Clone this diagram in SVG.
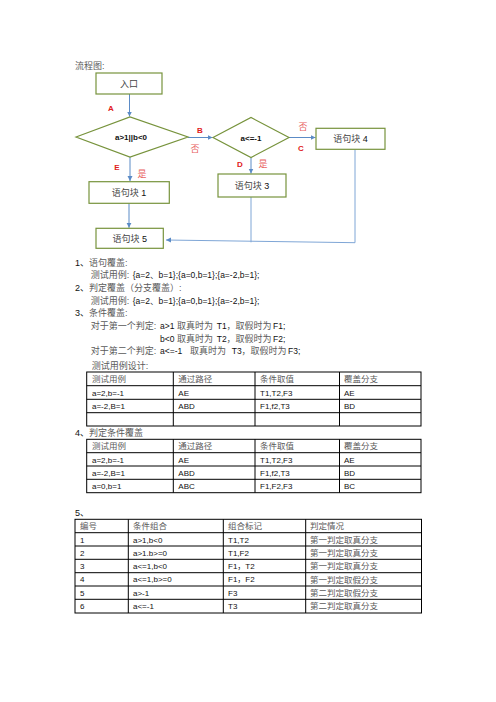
<svg xmlns="http://www.w3.org/2000/svg" width="496" height="702" viewBox="0 0 496 702">
<style>
text{font-family:"Liberation Sans","Noto Sans CJK SC",sans-serif;}
.cn{fill:#5a5a5a;font-size:9px;}
.lt{fill:#111;font-size:8.5px;}
.box{fill:#fff;stroke:#77933C;stroke-width:1.2;}
.lbl{fill:#E02020;font-size:8px;font-weight:bold;text-anchor:middle;}
.yn{fill:#E86060;font-size:9px;text-anchor:middle;}
.nt{fill:#444;font-size:9px;text-anchor:middle;}
.nt2{fill:#111;font-size:8px;font-weight:bold;text-anchor:middle;}
.con{fill:none;stroke:#5B8BC6;stroke-width:1;}
.ret{fill:none;stroke:#7FA6D6;stroke-width:1;}
.tbl line,.tbl rect{stroke:#000;stroke-width:1;fill:none;}
.tc{fill:#5a5a5a;font-size:8.5px;}
.tl{fill:#111;font-size:8px;}
</style>
<defs>
<marker id="ah" markerUnits="userSpaceOnUse" markerWidth="6" markerHeight="6" refX="5" refY="3" orient="auto">
<path d="M0,0.5 L5,3 L0,5.5 Z" fill="#5B8BC6"/>
</marker>
</defs>
<rect width="496" height="702" fill="#fff"/>

<text x="75" y="69" class="cn">流程图:</text>

<g id="connectors">
<line class="con" x1="129.5" y1="94" x2="129.5" y2="116.5" marker-end="url(#ah)"/>
<line class="con" x1="188" y1="137.5" x2="212.5" y2="137.5" marker-end="url(#ah)"/>
<line class="con" x1="289" y1="137.5" x2="315.5" y2="137.5" marker-end="url(#ah)"/>
<line class="con" x1="251" y1="157.5" x2="251" y2="173.5" marker-end="url(#ah)"/>
<line class="con" x1="130" y1="157" x2="130" y2="181" marker-end="url(#ah)"/>
<line class="con" x1="129" y1="203.5" x2="129" y2="227.8" marker-end="url(#ah)"/>
<line class="ret" x1="251" y1="197" x2="251" y2="242.3"/>
<polyline class="ret" points="355,149.3 355,242.7 166,240" marker-end="url(#ah)"/>
<text x="111" y="111" class="lbl">A</text>
<text x="200" y="133" class="lbl">B</text>
<text x="195" y="152" class="yn">否</text>
<text x="303" y="130" class="yn">否</text>
<text x="301" y="151" class="lbl">C</text>
<text x="240" y="167" class="lbl">D</text>
<text x="263" y="167" class="yn">是</text>
<text x="117" y="170" class="lbl">E</text>
<text x="142" y="177" class="yn">是</text>
</g>

<g id="entry">
<rect class="box" x="96" y="73" width="66" height="21"/>
<text x="129" y="87" class="nt">入口</text>
</g>
<g id="decision1">
<polygon class="box" points="76,137 130,117 188,137 130,157"/>
<text x="131" y="140" class="nt2">a&gt;1||b&lt;0</text>
</g>
<g id="decision2">
<polygon class="box" points="213,137.5 251,117.5 289,137.5 251,157.5"/>
<text x="251" y="141" class="nt2">a&lt;=-1</text>
</g>
<g id="block4">
<rect class="box" x="316" y="128.3" width="69" height="21"/>
<text x="350.5" y="142" class="nt">语句块 <tspan fill="#111">4</tspan></text>
</g>
<g id="block3">
<rect class="box" x="218" y="174" width="68" height="23"/>
<text x="252" y="189" class="nt">语句块 <tspan fill="#111">3</tspan></text>
</g>
<g id="block1">
<rect class="box" x="89" y="181.7" width="80.3" height="21.6"/>
<text x="129" y="196" class="nt">语句块 <tspan fill="#111">1</tspan></text>
</g>
<g id="block5">
<rect class="box" x="96" y="228.3" width="67.3" height="20"/>
<text x="129.7" y="241.5" class="nt">语句块 <tspan fill="#111">5</tspan></text>
</g>

<g id="notes">
<text y="266" class="cn"><tspan x="75" fill="#111">1、</tspan><tspan x="89">语句覆盖:</tspan></text>
<text y="278" class="cn"><tspan x="90.7">测试用例:</tspan><tspan x="132.7" class="lt">{a=2、b=1};{a=0,b=1};{a=-2,b=1};</tspan></text>
<text y="291" class="cn"><tspan x="75" fill="#111">2、</tspan><tspan x="89">判定覆盖（分支覆盖）:</tspan></text>
<text y="304" class="cn"><tspan x="90.7">测试用例:</tspan><tspan x="132.7" class="lt">{a=2、b=1};{a=0,b=1};{a=-2,b=1};</tspan></text>
<text y="316" class="cn"><tspan x="75" fill="#111">3、</tspan><tspan x="89">条件覆盖:</tspan></text>
<text y="329" class="cn"><tspan x="90.7">对于第一个判定:</tspan><tspan x="160" class="lt">a&gt;1</tspan><tspan x="177">取真时为</tspan><tspan x="216.7" class="lt">T1</tspan><tspan x="226.5">，取假时为</tspan><tspan x="273" class="lt">F1;</tspan></text>
<text y="341.5" class="cn"><tspan x="160" class="lt">b&lt;0</tspan><tspan x="177">取真时为</tspan><tspan x="216.7" class="lt">T2</tspan><tspan x="226.5">，取假时为</tspan><tspan x="273" class="lt">F2;</tspan></text>
<text y="354" class="cn"><tspan x="90.7">对于第二个判定:</tspan><tspan x="160" class="lt">a&lt;=-1</tspan><tspan x="190">取真时为</tspan><tspan x="231.7" class="lt">T3</tspan><tspan x="241.5">，取假时为</tspan><tspan x="288" class="lt">F3;</tspan></text>
<text x="91.7" y="369" class="cn">测试用例设计:</text>
<text y="436" class="cn"><tspan x="75" fill="#111">4、</tspan><tspan x="89">判定条件覆盖</tspan></text>
<text x="75" y="516" class="cn" style="fill:#111">5、</text>
</g>

<g id="table1" class="tbl">
<rect x="86.7" y="372" width="334.3" height="54"/>
<line x1="86.7" y1="385.7" x2="421" y2="385.7"/>
<line x1="86.7" y1="399.3" x2="421" y2="399.3"/>
<line x1="86.7" y1="412.7" x2="421" y2="412.7"/>
<line x1="173.3" y1="372" x2="173.3" y2="426"/>
<line x1="255" y1="372" x2="255" y2="426"/>
<line x1="339.5" y1="372" x2="339.5" y2="426"/>
<text x="92" y="382" class="tc">测试用例</text>
<text x="178.3" y="382" class="tc">通过路径</text>
<text x="260" y="382" class="tc">条件取值</text>
<text x="344" y="382" class="tc">覆盖分支</text>
<text x="92" y="395.5" class="tl">a=2,b=-1</text>
<text x="178.3" y="395.5" class="tl">AE</text>
<text x="260" y="395.5" class="tl">T1,T2,F3</text>
<text x="344" y="395.5" class="tl">AE</text>
<text x="92" y="409" class="tl">a=-2,B=1</text>
<text x="178.3" y="409" class="tl">ABD</text>
<text x="260" y="409" class="tl">F1,f2,T3</text>
<text x="344" y="409" class="tl">BD</text>
</g>

<g id="table2" class="tbl">
<rect x="86.7" y="439.3" width="334.3" height="53.4"/>
<line x1="86.7" y1="452.7" x2="421" y2="452.7"/>
<line x1="86.7" y1="466" x2="421" y2="466"/>
<line x1="86.7" y1="479.3" x2="421" y2="479.3"/>
<line x1="173.3" y1="439.3" x2="173.3" y2="492.7"/>
<line x1="255" y1="439.3" x2="255" y2="492.7"/>
<line x1="339.5" y1="439.3" x2="339.5" y2="492.7"/>
<text x="92" y="449.3" class="tc">测试用例</text>
<text x="178.3" y="449.3" class="tc">通过路径</text>
<text x="260" y="449.3" class="tc">条件取值</text>
<text x="344" y="449.3" class="tc">覆盖分支</text>
<text x="92" y="462.5" class="tl">a=2,b=-1</text>
<text x="178.3" y="462.5" class="tl">AE</text>
<text x="260" y="462.5" class="tl">T1,T2,F3</text>
<text x="344" y="462.5" class="tl">AE</text>
<text x="92" y="475.8" class="tl">a=-2,B=1</text>
<text x="178.3" y="475.8" class="tl">ABD</text>
<text x="260" y="475.8" class="tl">F1,f2,T3</text>
<text x="344" y="475.8" class="tl">BD</text>
<text x="92" y="489" class="tl">a=0,b=1</text>
<text x="178.3" y="489" class="tl">ABC</text>
<text x="260" y="489" class="tl">F1,F2,F3</text>
<text x="344" y="489" class="tl">BC</text>
</g>

<g id="table3" class="tbl">
<rect x="75" y="519.3" width="346.5" height="93.7"/>
<line x1="75" y1="532.7" x2="421.5" y2="532.7"/>
<line x1="75" y1="546" x2="421.5" y2="546"/>
<line x1="75" y1="559.3" x2="421.5" y2="559.3"/>
<line x1="75" y1="572.7" x2="421.5" y2="572.7"/>
<line x1="75" y1="586" x2="421.5" y2="586"/>
<line x1="75" y1="599.3" x2="421.5" y2="599.3"/>
<line x1="128.3" y1="519.3" x2="128.3" y2="613"/>
<line x1="223.3" y1="519.3" x2="223.3" y2="613"/>
<line x1="305.7" y1="519.3" x2="305.7" y2="613"/>
<text x="80" y="529.3" class="tc">编号</text>
<text x="133" y="529.3" class="tc">条件组合</text>
<text x="228" y="529.3" class="tc">组合标记</text>
<text x="310" y="529.3" class="tc">判定情况</text>
<text x="80" y="542.5" class="tl">1</text>
<text x="133" y="542.5" class="tl">a&gt;1,b&lt;0</text>
<text x="228" y="542.5" class="tl">T1,T2</text>
<text x="310" y="542.8" class="tc">第一判定取真分支</text>
<text x="80" y="555.8" class="tl">2</text>
<text x="133" y="555.8" class="tl">a&gt;1.b&gt;=0</text>
<text x="228" y="555.8" class="tl">T1,F2</text>
<text x="310" y="556.1" class="tc">第一判定取真分支</text>
<text x="80" y="569.1" class="tl">3</text>
<text x="133" y="569.1" class="tl">a&lt;=1,b&lt;0</text>
<text x="228" y="569.1" class="tl">F1，T2</text>
<text x="310" y="569.4" class="tc">第一判定取真分支</text>
<text x="80" y="582.4" class="tl">4</text>
<text x="133" y="582.4" class="tl">a&lt;=1,b&gt;=0</text>
<text x="228" y="582.4" class="tl">F1，F2</text>
<text x="310" y="582.7" class="tc">第一判定取假分支</text>
<text x="80" y="595.7" class="tl">5</text>
<text x="133" y="595.7" class="tl">a&gt;-1</text>
<text x="228" y="595.7" class="tl">F3</text>
<text x="310" y="596" class="tc">第二判定取假分支</text>
<text x="80" y="609" class="tl">6</text>
<text x="133" y="609" class="tl">a&lt;=-1</text>
<text x="228" y="609" class="tl">T3</text>
<text x="310" y="609.3" class="tc">第二判定取真分支</text>
</g>
</svg>
